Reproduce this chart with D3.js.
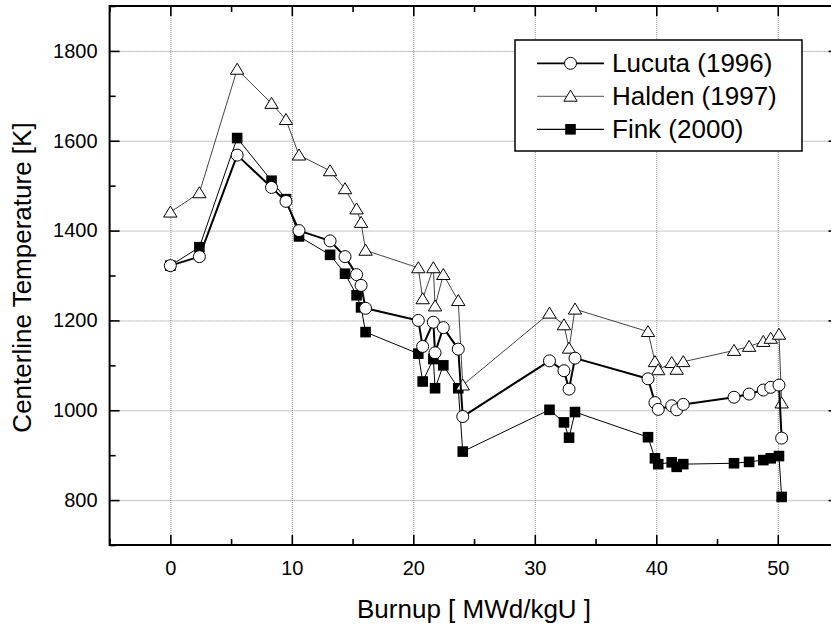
<!DOCTYPE html>
<html>
<head>
<meta charset="utf-8">
<script src="https://cdn.jsdelivr.net/npm/d3@7"></script>
<style>
  html, body { margin: 0; padding: 0; background: #fff; }
  svg { display: block; }
  text { font-family: "Liberation Sans", Arial, Helvetica, sans-serif; fill: #000; }
</style>
</head>
<body>
<svg id="chart" width="831" height="630"></svg>
<script>
// Burnup values shared by the three data sets [MWd/kgU]
const burnup = [0, 2.39, 5.5, 8.33, 9.52, 10.59, 13.15, 14.38, 15.33, 15.7, 16.07,
  20.41, 20.77, 21.65, 21.79, 22.47, 23.7, 24.07,
  31.21, 32.4, 32.82, 33.31,
  39.32, 39.89, 40.16, 41.27, 41.68, 42.22, 46.4, 47.64, 48.81, 49.42, 50.1, 50.32];

// Centerline temperatures [K]
const lucuta = [1322, 1342, 1568, 1496, 1465, 1400, 1377, 1342, 1302, 1278, 1227,
  1200, 1142, 1196, 1128, 1184, 1136, 986,
  1110, 1088, 1047, 1116,
  1070, 1017, 1002, 1010, 1001, 1013, 1029, 1036, 1045, 1051, 1056, 938];
const halden = [1441, 1484, 1759, 1683, 1647, 1568, 1533, 1493, 1448, 1418, 1356,
  1317, 1248, 1317, 1232, 1302, 1244, 1056,
  1216, 1190, 1138, 1225,
  1175, 1108, 1090, 1106, 1091, 1108, 1133, 1142, 1153, 1160, 1169, 1016];
const fink = [1322, 1363, 1606, 1511, 1470, 1387, 1346, 1304, 1256, 1229, 1174,
  1126, 1064, 1114, 1049, 1100, 1049, 908,
  1001, 973, 939, 996,
  940, 893, 880, 884, 874, 880, 882, 885, 889, 893, 898, 807];

const seriesNames = ["Lucuta (1996)", "Halden (1997)", "Fink (2000)"];
const xMajor = [0, 10, 20, 30, 40, 50];
const xMinor = [-5, 5, 15, 25, 35, 45, 55];
const yMajor = [800, 1000, 1200, 1400, 1600, 1800];
const yMinor = [700, 900, 1100, 1300, 1500, 1700, 1900];

const svg = d3.select("#chart");
const L = 109.6, R = 838.5, T = 6, B = 545;

const x = d3.scaleLinear().domain([-5, 55]).range([L, R]);
const y = d3.scaleLinear().domain([700, 1900]).range([B, T]);

// dotted grid at the major ticks
const grid = svg.append("g");
grid.append("g").attr("transform", `translate(0,${B})`)
  .call(d3.axisBottom(x).tickValues(xMajor).tickSize(-(B - T)).tickFormat(""))
  .call(g => g.select(".domain").remove());
grid.append("g").attr("transform", `translate(${L},0)`)
  .call(d3.axisLeft(y).tickValues(yMajor).tickSize(-(R - L)).tickFormat(""))
  .call(g => g.select(".domain").remove());
grid.selectAll("line")
  .attr("stroke", "#8a8a8a").attr("stroke-width", 1).attr("stroke-dasharray", "1,1");

// series: drawn in order so that open circles sit on top
const series = [
  { name: seriesNames[2], values: fink, line: "#000", width: 1, symbol: "square" },
  { name: seriesNames[1], values: halden, line: "#444", width: 1, symbol: "triangle" },
  { name: seriesNames[0], values: lucuta, line: "#000", width: 2, symbol: "circle" }
];

function drawSymbol(g, kind, cx, cy) {
  if (kind === "circle") {
    g.append("circle").attr("cx", cx).attr("cy", cy).attr("r", 6)
      .attr("fill", "#fff").attr("stroke", "#000").attr("stroke-width", 1);
  } else if (kind === "square") {
    g.append("rect").attr("x", cx - 5.3).attr("y", cy - 5.3)
      .attr("width", 10.6).attr("height", 10.6).attr("fill", "#000");
  } else {
    const h = 11, w = 13.4;
    g.append("path")
      .attr("d", `M${cx},${cy - h / 2 - 0.6}L${cx + w / 2},${cy + h / 2 - 0.6}L${cx - w / 2},${cy + h / 2 - 0.6}Z`)
      .attr("fill", "#fff").attr("stroke", "#000").attr("stroke-width", 1);
  }
}

const line = d3.line().x(d => x(d[0])).y(d => y(d[1]));
series.forEach(s => {
  const pts = burnup.map((b, i) => [b, s.values[i]]);
  const g = svg.append("g");
  g.append("path").datum(pts).attr("d", line)
    .attr("fill", "none").attr("stroke", s.line).attr("stroke-width", s.width)
    .attr("stroke-linejoin", "round");
  pts.forEach(p => drawSymbol(g, s.symbol, x(p[0]), y(p[1])));
});

// axes: inward ticks on all four sides
function styleAxis(g) {
  g.select(".domain").remove();
  g.selectAll("line").attr("stroke", "#000").attr("stroke-width", 1.6);
}
const tickFont = g => g.selectAll("text")
  .style("font-size", "20px").style("font-family", '"Liberation Sans", Arial, sans-serif').attr("fill", "#000");

svg.append("g").attr("transform", `translate(0,${B})`)
  .call(d3.axisBottom(x).tickValues(xMajor).tickSize(-10).tickPadding(16).tickFormat(d3.format("d")))
  .call(styleAxis).call(tickFont);
svg.append("g").attr("transform", `translate(0,${B})`)
  .call(d3.axisBottom(x).tickValues(xMinor).tickSize(-6).tickFormat("")).call(styleAxis);
svg.append("g").attr("transform", `translate(0,${T})`)
  .call(d3.axisTop(x).tickValues(xMajor).tickSize(-10).tickFormat("")).call(styleAxis);
svg.append("g").attr("transform", `translate(0,${T})`)
  .call(d3.axisTop(x).tickValues(xMinor).tickSize(-6).tickFormat("")).call(styleAxis);

svg.append("g").attr("transform", `translate(${L},0)`)
  .call(d3.axisLeft(y).tickValues(yMajor).tickSize(-10).tickPadding(12).tickFormat(d3.format("d")))
  .call(styleAxis).call(tickFont);
svg.append("g").attr("transform", `translate(${L},0)`)
  .call(d3.axisLeft(y).tickValues(yMinor).tickSize(-6).tickFormat("")).call(styleAxis);
svg.append("g").attr("transform", `translate(${R},0)`)
  .call(d3.axisRight(y).tickValues(yMajor).tickSize(-10).tickFormat("")).call(styleAxis);
svg.append("g").attr("transform", `translate(${R},0)`)
  .call(d3.axisRight(y).tickValues(yMinor).tickSize(-6).tickFormat("")).call(styleAxis);

// plot frame
svg.append("rect").attr("x", L).attr("y", T).attr("width", R - L).attr("height", B - T)
  .attr("fill", "none").attr("stroke", "#000").attr("stroke-width", 2);

// axis titles
svg.append("text").attr("x", (L + R) / 2).attr("y", 618)
  .attr("text-anchor", "middle").style("font-size", "26px")
  .text("Burnup [ MWd/kgU ]");
svg.append("text")
  .attr("transform", `translate(31,${(T + B) / 2 + 2}) rotate(-90)`)
  .attr("text-anchor", "middle").style("font-size", "26px")
  .text("Centerline Temperature [K]");

// legend
const lg = svg.append("g");
lg.append("rect").attr("x", 515).attr("y", 40).attr("width", 287).attr("height", 111)
  .attr("fill", "#fff").attr("stroke", "#000").attr("stroke-width", 1.5);
const legendRows = [series[2], series[1], series[0]];
legendRows.forEach((s, i) => {
  const cy = 63.3 + i * 33;
  lg.append("line").attr("x1", 537).attr("x2", 604).attr("y1", cy).attr("y2", cy)
    .attr("stroke", s.symbol === "triangle" ? "#777" : s.line)
    .attr("stroke-width", s.width === 2 ? 1.8 : 1.2);
  drawSymbol(lg, s.symbol, 570.5, cy);
  lg.append("text").attr("x", 612).attr("y", cy + 8.5)
    .style("font-size", "26px").text(s.name);
});
</script>
</body>
</html>
